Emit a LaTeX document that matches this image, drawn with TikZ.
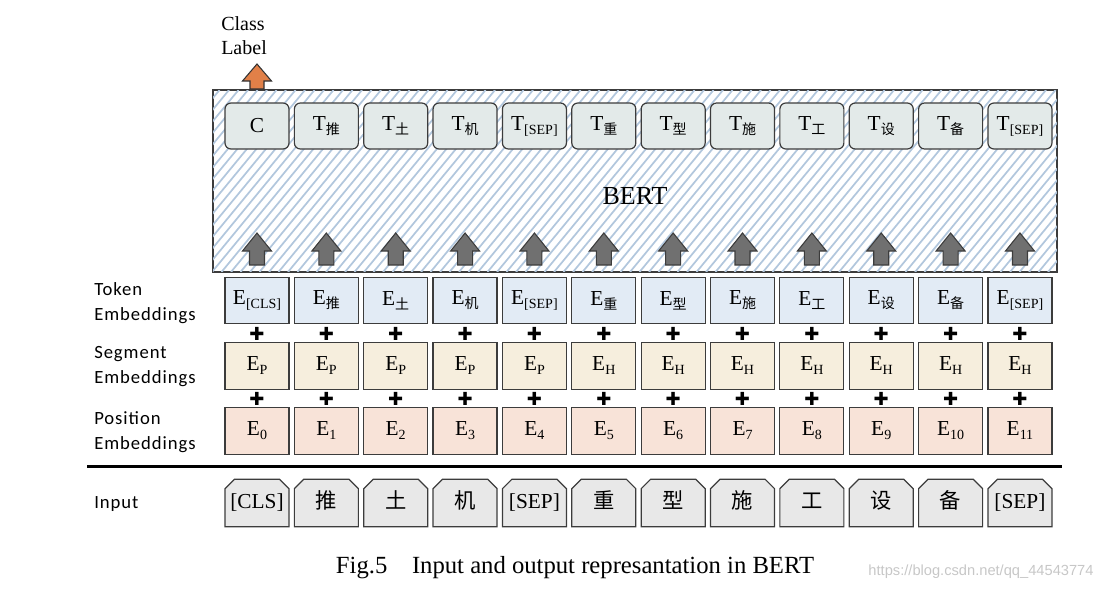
\documentclass[tikz,border=0pt]{standalone}
\usepackage{fontspec}
\setmainfont{Liberation Serif}
\newfontfamily\cjk{Noto Sans CJK SC}
\newfontfamily\lblfont{Carlito}[LetterSpace=5]
\newfontfamily\symfont{DejaVu Sans}
\newfontfamily\wmfont{Liberation Sans}
\usetikzlibrary{shapes.misc, positioning}

\definecolor{hatchblue}{RGB}{178,199,221}
\definecolor{tfill}{RGB}{227,234,233}
\definecolor{tokfill}{RGB}{226,235,245}
\definecolor{segfill}{RGB}{246,238,221}
\definecolor{posfill}{RGB}{248,227,216}
\definecolor{infill}{RGB}{232,232,232}
\definecolor{boxline}{RGB}{60,60,60}
\definecolor{upgray}{RGB}{112,112,112}
\definecolor{clsorange}{RGB}{225,128,72}

\newcommand{\lsub}[1]{\raisebox{-3pt}{\fontsize{10.5}{12}\selectfont #1}}

\begin{document}
\begin{tikzpicture}[
  x=0.75pt, y=-0.75pt,
  embbox/.style={
    rectangle, draw=boxline, line width=0.9pt,
    minimum width=48pt, minimum height=35pt, inner sep=0pt,
    font=\fontsize{16}{18}\selectfont
  },
  outbox/.style={embbox, rounded corners=4.5pt, fill=tfill, minimum height=34.5pt},
  tokbox/.style={embbox, fill=tokfill},
  segbox/.style={embbox, fill=segfill},
  posbox/.style={embbox, fill=posfill},
  inbox/.style={embbox, chamfered rectangle,
    chamfered rectangle corners={north west, north east},
    chamfered rectangle xsep=3.5pt, chamfered rectangle ysep=3.5pt,
    fill=infill, minimum height=35.5pt, text height=8.5pt, text depth=0pt},
  bertbox/.style={
    draw=boxline, line width=1pt,
    minimum width=633pt, minimum height=136.5pt
  },
  hatch/.style={hatchblue, line width=1.3pt},
  rowlabel/.style={anchor=west, align=left, inner sep=0pt,
    font=\lblfont\fontsize{14}{18.75}\selectfont},
  plussign/.style={inner sep=0pt, font=\symfont\fontsize{13.5}{14}\selectfont},
  bertarrow/.pic={
    \draw[draw=boxline, fill=upgray, line width=0.8pt]
      (0,0) -- (14.5,18) -- (7.5,18) -- (7.5,32) -- (-7.5,32) -- (-7.5,18) -- (-14.5,18) -- cycle;
  },
  labelarrow/.pic={
    \draw[draw=black!80, fill=clsorange, line width=0.8pt]
      (0,0) -- (14.5,17) -- (7,17) -- (7,25) -- (-7,25) -- (-7,17) -- (-14.5,17) -- cycle;
  }
]
\useasboundingbox (0,0) rectangle (1109,590);

% BERT block with hatching
\node[bertbox] (bert) at (635,181) {};
\begin{scope}
  \clip (bert.south west) rectangle (bert.north east);
  \foreach \k in {60,69.5,...,1060}
    \draw[hatch] (\k,272) -- ++(150,-182);
\end{scope}
\draw[draw=boxline, line width=1pt] (bert.south west) rectangle (bert.north east);
\node[font=\fontsize{19.5}{22}\selectfont] (bertlbl) at (635,196) {BERT};

% one column per token
\foreach \w [count=\i] in {{[CLS]},{\cjk 推},{\cjk 土},{\cjk 机},{[SEP]},{\cjk 重},
                           {\cjk 型},{\cjk 施},{\cjk 工},{\cjk 设},{\cjk 备},{[SEP]}} {
  \pgfmathsetmacro\cx{257+(\i-1)*69.36}
  \pgfmathtruncatemacro\pidx{\i-1}
  \node[outbox] (t\i)   at (\cx,126)   {\ifnum\i=1 C\else T\lsub{\w}\fi};
  \pic at (\cx,233) {bertarrow};
  \node[tokbox] (tok\i) at (\cx,300.5) {E\lsub{\w}};
  \node[plussign] (pa\i) at (\cx,333.5) {✚};
  \node[segbox] (seg\i) at (\cx,366)   {E\lsub{\ifnum\i<6 P\else H\fi}};
  \node[plussign] (pb\i) at (\cx,399) {✚};
  \node[posbox] (pos\i) at (\cx,431)   {E\lsub{\pidx}};
  \node[inbox]  (in\i)  at (\cx,503)   {\w};
}

% class label on top of C
\pic at (257,64) {labelarrow};
\node[anchor=west, align=left, inner sep=0pt,
      font=\fontsize{15}{18}\selectfont] (cls) at (221,36) {Class\\Label};

% row labels
\node[rowlabel] (toklbl) at (94,303) {Token\\Embeddings};
\node[rowlabel] (seglbl) at (94,367) {Segment\\Embeddings};
\node[rowlabel] (poslbl) at (94,432) {Position\\Embeddings};
\node[rowlabel] (inlbl)  at (94,504) {Input};

\coordinate (rulel) at (87,466.5);
\coordinate (ruler) at (1062,466.5);
\draw[line width=2.2pt] (rulel) -- (ruler);

\node[font=\fontsize{18.5}{20}\selectfont] (caption) at (575,568)
  {Fig.5\quad Input and output represantation in BERT};
\node[font=\wmfont\fontsize{11}{12}\selectfont, text=black!22] (wm) at (981,572)
  {https://blog.csdn.net/qq\_44543774};
\end{tikzpicture}
\end{document}
